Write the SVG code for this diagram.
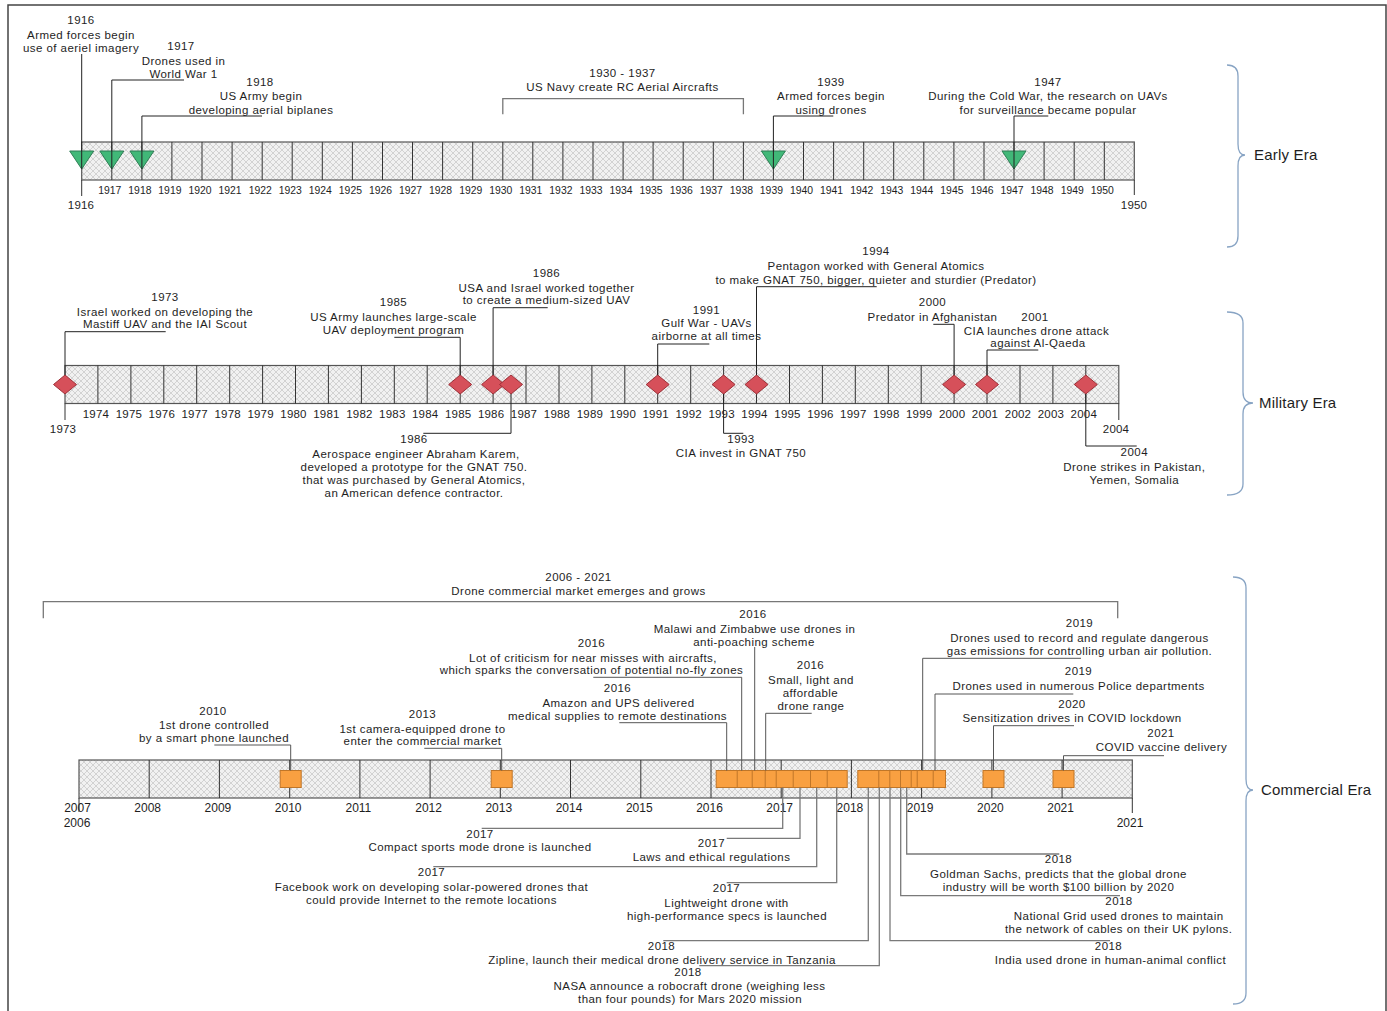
<svg xmlns="http://www.w3.org/2000/svg" xmlns:xlink="http://www.w3.org/1999/xlink" width="1387" height="1011" viewBox="0 0 1387 1011">
<style>
text{font-family:"Liberation Sans",Arial,sans-serif;fill:#1e1e1e}
.t{font-size:11.5px;letter-spacing:0.45px;text-anchor:middle}
.ax{font-size:10.4px;text-anchor:middle}
.axm{font-size:11.5px;letter-spacing:0.2px;text-anchor:middle}
.axc{font-size:12px;text-anchor:middle}
.era{font-size:15px;letter-spacing:0.2px}
.cn{fill:none;stroke:#222;stroke-width:1}
.cu{fill:none;stroke:#555;stroke-width:1}
.cd{fill:none;stroke:#7a7a7a;stroke-width:1.3}
.br{fill:none;stroke:#777;stroke-width:1.3}
.brace{fill:none;stroke:#88a4c4;stroke-width:1.3}
.bar{fill:url(#hatch);stroke:#555;stroke-width:1.2}
.dv{fill:none;stroke:#333;stroke-width:1}
.tri{fill:#41b878;stroke:#2e7d55;stroke-width:1}
.dia{fill:#d6505a;stroke:#9e3038;stroke-width:1}
.sq{fill:#f9a041;stroke:#c07628;stroke-width:1}
</style>
<defs>
<pattern id="hatch" width="6" height="6" patternUnits="userSpaceOnUse">
<rect width="6" height="6" fill="#f1f1f1"/>
<path d="M0,0L6,6M6,0L0,6" stroke="#bdbdbd" stroke-width="0.6"/>
</pattern>
<polygon id="tri" class="tri" points="-12,0 12,0 0,18"/>
<polygon id="dia" class="dia" points="0,-9.5 11.5,0 0,9.5 -11.5,0"/>
<rect id="sq" class="sq" x="-10.5" y="-8.5" width="21" height="17"/>
</defs>
<rect width="1387" height="1011" fill="#fff"/>
<path d="M8,1011V5H1386V1011" fill="none" stroke="#444" stroke-width="1.5"/>

<!-- ================= EARLY ERA ================= -->
<g id="early-axis">
<rect class="bar" x="81.7" y="142" width="1052.6" height="38"/>
<path class="dv" d="M111.8,142V180M141.9,142V180M171.9,142V180M202,142V180M232.1,142V180M262.2,142V180M292.2,142V180M322.3,142V180M352.4,142V180M382.5,142V180M412.5,142V180M442.6,142V180M472.7,142V180M502.8,142V180M532.8,142V180M562.9,142V180M593,142V180M623.1,142V180M653.1,142V180M683.2,142V180M713.3,142V180M743.4,142V180M773.4,142V180M803.5,142V180M833.6,142V180M863.7,142V180M893.7,142V180M923.8,142V180M953.9,142V180M984,142V180M1014,142V180M1044.1,142V180M1074.2,142V180M1104.3,142V180M81.7,180V196M1134.3,180V195"/>
<text class="ax" y="193.5"><tspan x="109.8">1917</tspan><tspan x="139.9">1918</tspan><tspan x="169.9">1919</tspan><tspan x="200">1920</tspan><tspan x="230.1">1921</tspan><tspan x="260.2">1922</tspan><tspan x="290.2">1923</tspan><tspan x="320.3">1924</tspan><tspan x="350.4">1925</tspan><tspan x="380.5">1926</tspan><tspan x="410.5">1927</tspan><tspan x="440.6">1928</tspan><tspan x="470.7">1929</tspan><tspan x="500.8">1930</tspan><tspan x="530.8">1931</tspan><tspan x="560.9">1932</tspan><tspan x="591">1933</tspan><tspan x="621.1">1934</tspan><tspan x="651.1">1935</tspan><tspan x="681.2">1936</tspan><tspan x="711.3">1937</tspan><tspan x="741.4">1938</tspan><tspan x="771.4">1939</tspan><tspan x="801.5">1940</tspan><tspan x="831.6">1941</tspan><tspan x="861.7">1942</tspan><tspan x="891.7">1943</tspan><tspan x="921.8">1944</tspan><tspan x="951.9">1945</tspan><tspan x="982">1946</tspan><tspan x="1012">1947</tspan><tspan x="1042.1">1948</tspan><tspan x="1072.2">1949</tspan><tspan x="1102.3">1950</tspan></text>
<text class="axm" x="81" y="209">1916</text>
<text class="axm" x="1134" y="209">1950</text>
</g>

<g id="e1916"><use href="#tri" x="81.7" y="151"/>
<text class="t" x="81" y="24">1916</text><text class="t" x="81" y="39">Armed forces begin</text><text class="t" x="81" y="52">use of aeriel imagery</text></g>
<g id="e1917"><use href="#tri" x="111.8" y="151"/>
<text class="t" x="181" y="50">1917</text><text class="t" x="183.5" y="65">Drones used in</text><text class="t" x="183.5" y="77.5">World War 1</text></g>
<g id="e1918"><use href="#tri" x="141.9" y="151"/>
<text class="t" x="260" y="86">1918</text><text class="t" x="261" y="100">US Army begin</text><text class="t" x="261" y="114">developing aerial biplanes</text></g>
<g id="e1930"><text class="t" x="622.5" y="77">1930 - 1937</text><text class="t" x="622.5" y="91">US Navy create RC Aerial Aircrafts</text></g>
<g id="e1939"><use href="#tri" x="773.4" y="151"/>
<text class="t" x="831" y="86">1939</text><text class="t" x="831" y="100">Armed forces begin</text><text class="t" x="831" y="114">using drones</text></g>
<g id="e1947"><use href="#tri" x="1014" y="151"/>
<text class="t" x="1048" y="86">1947</text><text class="t" x="1048" y="100">During the Cold War, the research on UAVs</text><text class="t" x="1048" y="114">for surveillance became popular</text></g>
<g id="early-era"><path class="brace" d="M1227,65Q1238,65 1238,76V144Q1238,155 1245,155Q1238,155 1238,166V236Q1238,247 1227,247"/>
<text class="era" x="1254" y="160">Early Era</text></g>

<!-- ================= MILITARY ERA ================= -->
<g id="military-axis">
<rect class="bar" x="65" y="365.5" width="1053.8" height="38"/>
<path class="dv" d="M97.9,365.5V403.5M130.9,365.5V403.5M163.8,365.5V403.5M196.7,365.5V403.5M229.7,365.5V403.5M262.6,365.5V403.5M295.5,365.5V403.5M328.4,365.5V403.5M361.4,365.5V403.5M394.3,365.5V403.5M427.2,365.5V403.5M460.2,365.5V403.5M493.1,365.5V403.5M526,365.5V403.5M559,365.5V403.5M591.9,365.5V403.5M624.8,365.5V403.5M657.7,365.5V403.5M690.7,365.5V403.5M723.6,365.5V403.5M756.5,365.5V403.5M789.5,365.5V403.5M822.4,365.5V403.5M855.3,365.5V403.5M888.3,365.5V403.5M921.2,365.5V403.5M954.1,365.5V403.5M987,365.5V403.5M1020,365.5V403.5M1052.9,365.5V403.5M1085.8,365.5V403.5M65,403.5V420M1118.8,403.5V420"/>
<text class="axm" y="418"><tspan x="95.9">1974</tspan><tspan x="128.9">1975</tspan><tspan x="161.8">1976</tspan><tspan x="194.7">1977</tspan><tspan x="227.7">1978</tspan><tspan x="260.6">1979</tspan><tspan x="293.5">1980</tspan><tspan x="326.4">1981</tspan><tspan x="359.4">1982</tspan><tspan x="392.3">1983</tspan><tspan x="425.2">1984</tspan><tspan x="458.2">1985</tspan><tspan x="491.1">1986</tspan><tspan x="524">1987</tspan><tspan x="557">1988</tspan><tspan x="589.9">1989</tspan><tspan x="622.8">1990</tspan><tspan x="655.7">1991</tspan><tspan x="688.7">1992</tspan><tspan x="721.6">1993</tspan><tspan x="754.5">1994</tspan><tspan x="787.5">1995</tspan><tspan x="820.4">1996</tspan><tspan x="853.3">1997</tspan><tspan x="886.3">1998</tspan><tspan x="919.2">1999</tspan><tspan x="952.1">2000</tspan><tspan x="985">2001</tspan><tspan x="1018">2002</tspan><tspan x="1050.9">2003</tspan><tspan x="1083.8">2004</tspan></text>
<text class="axm" x="63" y="433">1973</text>
<text class="axm" x="1116" y="433">2004</text>
</g>

<g id="m1973"><use href="#dia" x="65" y="384.5"/>
<text class="t" x="165" y="301">1973</text><text class="t" x="165" y="316">Israel worked on developing the</text><text class="t" x="165" y="328">Mastiff UAV and the IAI Scout</text></g>
<g id="m1985"><use href="#dia" x="460.2" y="384.5"/>
<text class="t" x="393.5" y="306">1985</text><text class="t" x="393.5" y="321">US Army launches large-scale</text><text class="t" x="393.5" y="334">UAV deployment program</text></g>
<g id="m1986a"><use href="#dia" x="493.1" y="384.5"/>
<text class="t" x="546.5" y="276.5">1986</text><text class="t" x="546.5" y="291.5">USA and Israel worked together</text><text class="t" x="546.5" y="304">to create a medium-sized UAV</text></g>
<g id="m1986b"><use href="#dia" x="511" y="384.5"/>
<text class="t" x="414" y="443">1986</text><text class="t" x="416" y="458">Aerospace engineer Abraham Karem,</text><text class="t" x="414" y="471">developed a prototype for the GNAT 750.</text><text class="t" x="414" y="484">that was purchased by General Atomics,</text><text class="t" x="414" y="497">an American defence contractor.</text></g>
<g id="m1991"><use href="#dia" x="657.7" y="384.5"/>
<text class="t" x="706.5" y="313.5">1991</text><text class="t" x="706.5" y="327">Gulf War - UAVs</text><text class="t" x="706.5" y="340">airborne at all times</text></g>
<g id="m1993"><use href="#dia" x="723.6" y="384.5"/>
<text class="t" x="741" y="443">1993</text><text class="t" x="741" y="457">CIA invest in GNAT 750</text></g>
<g id="m1994"><use href="#dia" x="756.5" y="384.5"/>
<text class="t" x="876" y="255">1994</text><text class="t" x="876" y="270">Pentagon worked with General Atomics</text><text class="t" x="876" y="283.5">to make GNAT 750, bigger, quieter and sturdier (Predator)</text></g>
<g id="m2000"><use href="#dia" x="954.1" y="384.5"/>
<text class="t" x="932.5" y="306">2000</text><text class="t" x="932.5" y="320.5">Predator in Afghanistan</text></g>
<g id="m2001"><use href="#dia" x="987" y="384.5"/>
<text class="t" x="1035" y="320.5">2001</text><text class="t" x="1036.5" y="334.5">CIA launches drone attack</text><text class="t" x="1038" y="347">against Al-Qaeda</text></g>
<g id="m2004"><use href="#dia" x="1085.8" y="384.5"/>
<text class="t" x="1134.3" y="456">2004</text><text class="t" x="1134.3" y="471">Drone strikes in Pakistan,</text><text class="t" x="1134.3" y="483.5">Yemen, Somalia</text></g>
<g id="military-era"><path class="brace" d="M1227,312Q1243,312 1243,323V392Q1243,403 1253,403Q1243,403 1243,414V484Q1243,495 1227,495"/>
<text class="era" x="1259" y="408">Military Era</text></g>

<!-- ================= COMMERCIAL ERA ================= -->
<g id="commercial-axis">
<rect class="bar" x="79" y="760" width="1053.3" height="38"/>
<path class="dv" d="M149.2,760V798M219.4,760V798M289.7,760V798M359.9,760V798M430.1,760V798M500.3,760V798M570.5,760V798M640.8,760V798M711,760V798M781.2,760V798M851.4,760V798M921.6,760V798M991.9,760V798M1062.1,760V798M79,798V812M1132.3,798V813"/>
<text class="axc" y="811.5"><tspan x="77.5">2007</tspan><tspan x="147.7">2008</tspan><tspan x="217.9">2009</tspan><tspan x="288.2">2010</tspan><tspan x="358.4">2011</tspan><tspan x="428.6">2012</tspan><tspan x="498.8">2013</tspan><tspan x="569">2014</tspan><tspan x="639.3">2015</tspan><tspan x="709.5">2016</tspan><tspan x="779.7">2017</tspan><tspan x="849.9">2018</tspan><tspan x="920.1">2019</tspan><tspan x="990.4">2020</tspan><tspan x="1060.6">2021</tspan></text>
<text class="axc" x="77" y="826.5">2006</text>
<text class="axc" x="1130" y="826.5">2021</text>
</g>

<g id="c2006"><text class="t" x="578.5" y="581">2006 - 2021</text><text class="t" x="578.5" y="595">Drone commercial market emerges and grows</text></g>
<g id="c2010"><use href="#sq" x="290.7" y="779"/>
<text class="t" x="213" y="715">2010</text><text class="t" x="214" y="729">1st drone controlled</text><text class="t" x="214" y="742">by a smart phone launched</text></g>
<g id="c2013"><use href="#sq" x="501.7" y="779"/>
<text class="t" x="422.5" y="718">2013</text><text class="t" x="422.5" y="733">1st camera-equipped drone to</text><text class="t" x="422.5" y="745">enter the commercial market</text></g>
<g id="c2019-police"><use href="#sq" x="935" y="779"/>
<text class="t" x="1078.5" y="675">2019</text><text class="t" x="1078.5" y="690">Drones used in numerous Police departments</text></g>
<g id="c2019-gas"><use href="#sq" x="922.7" y="779"/>
<text class="t" x="1079.5" y="627">2019</text><text class="t" x="1079.5" y="642">Drones used to record and regulate dangerous</text><text class="t" x="1079.5" y="655">gas emissions for controlling urban air pollution.</text></g>
<g id="c2018-goldman"><use href="#sq" x="906.7" y="779"/>
<text class="t" x="1058.5" y="863">2018</text><text class="t" x="1058.5" y="878">Goldman Sachs, predicts that the global drone</text><text class="t" x="1058.5" y="891">industry will be worth $100 billion by 2020</text></g>
<g id="c2018-grid"><use href="#sq" x="900.7" y="779"/>
<text class="t" x="1119" y="905">2018</text><text class="t" x="1118.7" y="920">National Grid used drones to maintain</text><text class="t" x="1118.7" y="933">the network of cables on their UK pylons.</text></g>
<g id="c2018-india"><use href="#sq" x="890" y="779"/>
<text class="t" x="1108.5" y="950">2018</text><text class="t" x="1110.5" y="964">India used drone in human-animal conflict</text></g>
<g id="c2018-nasa"><use href="#sq" x="879.3" y="779"/>
<text class="t" x="688" y="976">2018</text><text class="t" x="689.5" y="990">NASA announce a robocraft drone (weighing less</text><text class="t" x="690" y="1003">than four pounds) for Mars 2020 mission</text></g>
<g id="c2018-zipline"><use href="#sq" x="868.3" y="779"/>
<text class="t" x="661.5" y="950">2018</text><text class="t" x="662" y="964">Zipline, launch their medical drone delivery service in Tanzania</text></g>
<g id="c2017-light"><use href="#sq" x="836.7" y="779"/>
<text class="t" x="726.5" y="892">2017</text><text class="t" x="726.5" y="907">Lightweight drone with</text><text class="t" x="727" y="920">high-performance specs is launched</text></g>
<g id="c2017-facebook"><use href="#sq" x="816.7" y="779"/>
<text class="t" x="431.5" y="876">2017</text><text class="t" x="431.5" y="891">Facebook work on developing solar-powered drones that</text><text class="t" x="431.5" y="904">could provide Internet to the remote locations</text></g>
<g id="c2017-laws"><use href="#sq" x="800" y="779"/>
<text class="t" x="711.5" y="847">2017</text><text class="t" x="711.5" y="861">Laws and ethical regulations</text></g>
<g id="c2017-compact"><use href="#sq" x="782.7" y="779"/>
<text class="t" x="480" y="838">2017</text><text class="t" x="480" y="851">Compact sports mode drone is launched</text></g>
<g id="c2016-small"><use href="#sq" x="765.7" y="779"/>
<text class="t" x="810.5" y="669">2016</text><text class="t" x="811" y="684">Small, light and</text><text class="t" x="810.5" y="696.5">affordable</text><text class="t" x="811" y="710">drone range</text></g>
<g id="c2016-malawi"><use href="#sq" x="754.7" y="779"/>
<text class="t" x="753" y="618">2016</text><text class="t" x="754.5" y="633">Malawi and Zimbabwe use drones in</text><text class="t" x="754" y="646">anti-poaching scheme</text></g>
<g id="c2016-criticism"><use href="#sq" x="741.7" y="779"/>
<text class="t" x="591.5" y="647">2016</text><text class="t" x="593" y="662">Lot of criticism for near misses with aircrafts,</text><text class="t" x="591.5" y="674">which sparks the conversation of potential no-fly zones</text></g>
<g id="c2016-amazon"><use href="#sq" x="726.7" y="779"/>
<text class="t" x="617.5" y="692">2016</text><text class="t" x="618.5" y="707">Amazon and UPS delivered</text><text class="t" x="617.5" y="720">medical supplies to remote destinations</text></g>
<g id="c2020"><use href="#sq" x="993.5" y="779"/>
<text class="t" x="1072" y="708">2020</text><text class="t" x="1072" y="722">Sensitization drives in COVID lockdown</text></g>
<g id="c2021"><use href="#sq" x="1063.5" y="779"/>
<text class="t" x="1161" y="737">2021</text><text class="t" x="1161.5" y="751">COVID vaccine delivery</text></g>
<g id="commercial-era"><path class="brace" d="M1233,577Q1246,577 1246,588V779Q1246,790 1253,790Q1246,790 1246,801V993Q1246,1004 1233,1004"/>
<text class="era" x="1261" y="795">Commercial Era</text></g>

<!-- ================= CONNECTORS ================= -->
<g id="connectors">
<path class="cn" d="M81.7,54V169"/>
<path class="cn" d="M184,80H111.8V169"/>
<path class="cn" d="M262,116H141.9V169"/>
<path class="cn" d="M833.3,116H773.4V169"/>
<path class="cn" d="M1048.3,116H1014V169"/>
<path class="br" d="M502.8,114.3V98.7H743.4V114.3"/>
<path class="cn" d="M165.7,331.7H65V375"/>
<path class="cn" d="M394.3,337.3H460.2V375"/>
<path class="cn" d="M547.7,307.7H493.1V375"/>
<path class="cn" d="M511,394V433.3H423.3"/>
<path class="cn" d="M709.3,344H657.7V375"/>
<path class="cn" d="M723.6,394V433.3H743.3"/>
<path class="cn" d="M876.7,286.7H756.5V375"/>
<path class="cn" d="M933.3,324.3H954.1V375"/>
<path class="cn" d="M1038.3,350H987V375"/>
<path class="cn" d="M1085.8,394V446H1136.7"/>
<path class="br" d="M43.3,618.3V601.7H1117.7V618.3"/>
<path class="cu" d="M214.3,745H290.7V770.5"/>
<path class="cu" d="M424.3,748.3H501.7V770.5"/>
<path class="cu" d="M619.3,722.7H726.7V770.5"/>
<path class="cu" d="M593.3,677.3H741.7V770.5"/>
<path class="cu" d="M754.7,647V770.5"/>
<path class="cu" d="M811.7,713.3H765.7V770.5"/>
<path class="cu" d="M1081,658.3H922.7V770.5"/>
<path class="cu" d="M1073.3,694H935V770.5"/>
<path class="cu" d="M1074,725.7H993.5V770.5"/>
<path class="cu" d="M1164,755.7H1063.5V770.5"/>
<path class="cd" d="M782.7,787.5V828.3H481.7"/>
<path class="cd" d="M800,787.5V838.3H726.7"/>
<path class="cd" d="M816.7,787.5V866.7H433.3"/>
<path class="cd" d="M836.7,787.5V882.7H726.7"/>
<path class="cd" d="M868.3,787.5V940.7H663.3"/>
<path class="cd" d="M879.3,787.5V965.7H699.3"/>
<path class="cd" d="M890,787.5V940.7H1110"/>
<path class="cd" d="M900.7,787.5V895.7H1120"/>
<path class="cd" d="M906.7,787.5V854H1059.3"/>
</g>
</svg>
